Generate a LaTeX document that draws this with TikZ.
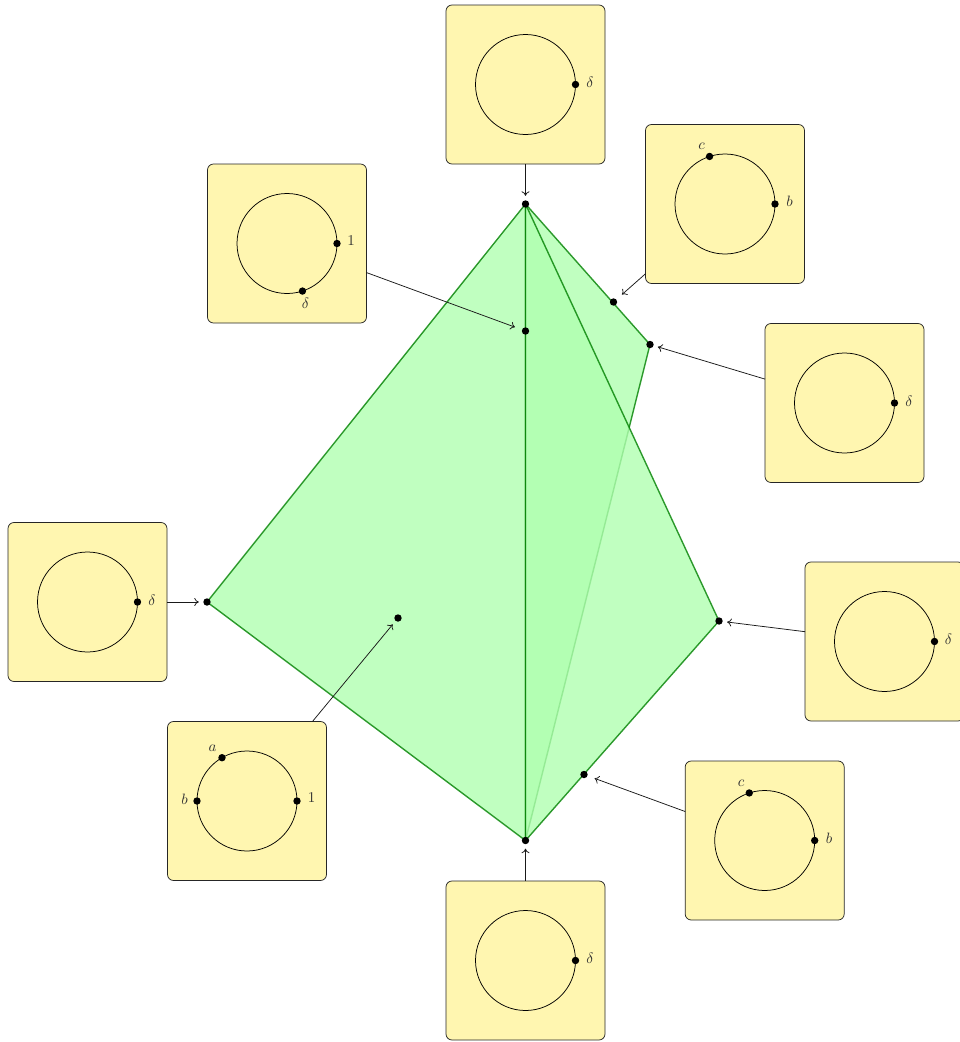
\documentclass[tikz,border=0pt]{standalone}
\usetikzlibrary{arrows.meta}
\definecolor{boxfill}{RGB}{255,246,176}
\definecolor{facefill}{RGB}{176,255,176}
\definecolor{faceedge}{RGB}{0,128,0}
\tikzset{
  x=1pt,y=-1pt,
  panel/.style={draw=black!85,fill=boxfill,rounded corners=6pt,minimum size=159pt,inner sep=0pt,outer sep=0pt,line width=0.75pt},
  ring/.style={circle,draw=black,minimum size=100pt,inner sep=0pt,outer sep=0pt,line width=0.75pt},
  pt/.style={circle,fill=black,minimum size=7.4pt,inner sep=0pt,outer sep=0pt},
  tag/.style={inner sep=0pt,outer sep=0pt,scale=1.5,text=black!80},
  face/.style={fill=facefill,draw=faceedge,opacity=.8,line width=1.4pt,line join=round},
  link/.style={draw=black!90,line width=0.75pt,-{To[length=4.5pt,width=8pt]},shorten >=4.5pt},
  linkfar/.style={link,shorten >=7.5pt},
}
\begin{document}
\begin{tikzpicture}
\useasboundingbox (0,0) rectangle (959,1042);
% vertices of the polytope
\coordinate (T) at (525.5,204);
\coordinate (B) at (525.5,840.5);
\coordinate (L) at (207,602);
\coordinate (R) at (719,621);
\coordinate (P) at (650,344.5);
% faces
\path[face] (T) -- (P) -- (B) -- cycle;
\path[face] (T) -- (L) -- (B) -- cycle;
\path[face] (T) -- (R) -- (B) -- cycle;
% points on the polytope
\node[pt] (dT) at (T) {};
\node[pt] (dB) at (B) {};
\node[pt] (dL) at (L) {};
\node[pt] (dR) at (R) {};
\node[pt] (dP) at (P) {};
\node[pt] (dM) at (525.5,331) {};
\node[pt] (dE) at (613.5,302) {};
\node[pt] (dF) at (584,774.5) {};
\node[pt] (dI) at (398,618) {};
% panels
\node[panel] (b1) at (525.5,84.5) {};
\node[panel] (b2) at (725,204) {};
\node[panel] (b3) at (844.5,403) {};
\node[panel] (b4) at (884.5,641.5) {};
\node[panel] (b5) at (764.7,840.5) {};
\node[panel] (b6) at (525.5,960.5) {};
\node[panel] (b7) at (247,801) {};
\node[panel] (b8) at (87.5,602) {};
\node[panel] (b9) at (287,243.5) {};
% rings
\foreach \n in {1,...,9} {\node[ring] (r\n) at (b\n) {};}
% marks on rings
\node[pt] (m1) at (r1.east) {};
\node[tag] (t1) at (590,82) {$\delta$};
\node[pt] (m2a) at (r2.108) {};
\node[pt] (m2b) at (r2.east) {};
\node[tag] (t2a) at (701.5,146) {$c$};
\node[tag] (t2b) at (789.5,201.5) {$b$};
\node[pt] (m3) at (r3.east) {};
\node[tag] (t3) at (909,401) {$\delta$};
\node[pt] (m4) at (r4.east) {};
\node[tag] (t4) at (948.5,639.5) {$\delta$};
\node[pt] (m5a) at (r5.108) {};
\node[pt] (m5b) at (r5.east) {};
\node[tag] (t5a) at (741,783) {$c$};
\node[tag] (t5b) at (829,838.5) {$b$};
\node[pt] (m6) at (r6.east) {};
\node[tag] (t6) at (590,958) {$\delta$};
\node[pt] (m7a) at (r7.120) {};
\node[pt] (m7b) at (r7.west) {};
\node[pt] (m7c) at (r7.east) {};
\node[tag] (t7a) at (212.5,748) {$a$};
\node[tag] (t7b) at (184.5,799) {$b$};
\node[tag] (t7c) at (311.5,798) {$1$};
\node[pt] (m8) at (r8.east) {};
\node[tag] (t8) at (152,600) {$\delta$};
\node[pt] (m9a) at (r9.east) {};
\node[pt] (m9b) at (r9.-72.5) {};
\node[tag] (t9a) at (351,241) {$1$};
\node[tag] (t9b) at (305.5,303) {$\delta$};
% connectors
\draw[link] (b1) -- (dT);
\draw[linkfar] (b2) -- (dE);
\draw[link] (b3) -- (dP);
\draw[link] (b4) -- (dR);
\draw[linkfar] (b5) -- (dF);
\draw[link] (b6) -- (dB);
\draw[link] (b7) -- (dI);
\draw[link] (b8) -- (dL);
\draw[linkfar] (b9) -- (dM);
\end{tikzpicture}
\end{document}
